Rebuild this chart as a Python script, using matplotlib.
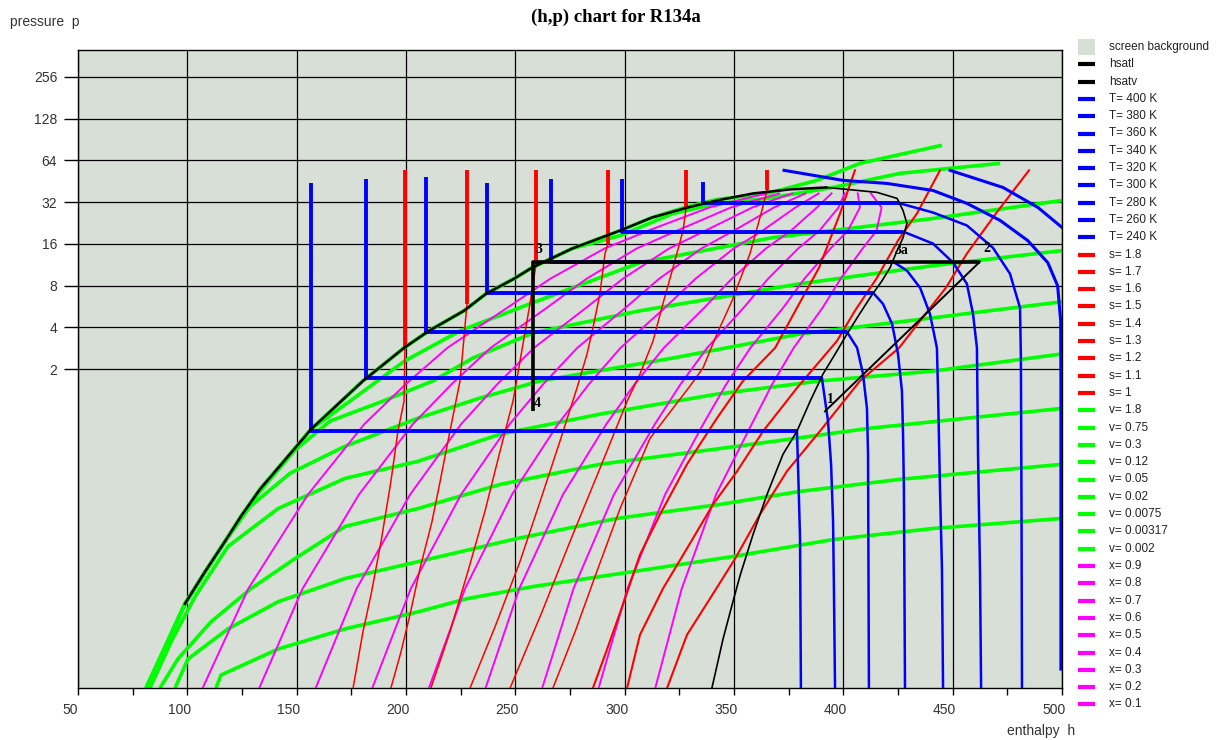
import matplotlib
matplotlib.use("Agg")
import matplotlib.pyplot as plt
import matplotlib.transforms as mtransforms
from matplotlib.lines import Line2D
from matplotlib.patches import Rectangle
from matplotlib.ticker import NullLocator

plt.rcParams['font.family'] = ['Liberation Sans', 'DejaVu Sans']

# ---- data: enthalpy h, pressure p ----
p_ticks = [2, 4, 8, 16, 32, 64, 128, 256]

# saturation curves
hsatl_h = [98.9, 108.1, 117.2, 124.5, 133.2, 149.2, 156.6, 180.3, 199.1, 210.5, 226.5,
           236.6, 249.4, 257.6, 275.9, 297.9, 312.5, 328.9, 342.2, 358.7, 375.6, 392.1]
hsatl_p = [0.0405, 0.0691, 0.114, 0.173, 0.271, 0.536, 0.736, 1.64, 2.84, 3.77, 5.26,
           6.98, 8.96, 10.76, 14.77, 19.93, 24.76, 29.25, 32.86, 36.93, 39.48, 40.81]
hsatv_h = [392.1, 401.7, 415.4, 424.6, 427.3, 429.1, 427.3, 424.6, 421.4, 417.7, 412.2, 406.3,
           401.7, 397.1, 390.7, 384.8, 378.8, 372.4, 365.1, 358.7, 352.9, 349.5, 345.0, 339.9]
hsatv_p = [40.81, 39.5, 37.6, 34.0, 27.8, 22.4, 17.7, 14.3, 10.8, 8.66, 6.53, 4.68,
           3.58, 2.70, 1.84, 1.17, 0.712, 0.485, 0.249, 0.128, 0.0657, 0.0419, 0.0226, 0.0100]

# isotherms (first three points: compressed liquid + two-phase, thick)
T_levels = [400, 380, 360, 340, 320, 300, 280, 260, 240]
t400_h = [448.8, 473.0, 489.0, 500.0]
t400_p = [54.2, 40.8, 29.25, 21.0]
t380_h = [372.9, 399.8, 420.0, 441.0, 456.5, 471.7, 484.3, 493.5, 498.0, 499.4, 499.5, 499.5]
t380_p = [54.2, 45.9, 43.6, 38.8, 31.3, 23.6, 16.9, 11.7, 7.97, 4.45, 1.64, 0.0137]
t360_h = [335.8, 335.8, 425.9, 441.0, 456.5, 468.4, 476.2, 480.8, 481.2, 481.5, 481.7]
t360_p = [44.35, 31.3, 31.3, 26.9, 21.7, 15.0, 9.74, 5.53, 2.40, 0.159, 0.01]
t340_h = [298.8, 298.8, 427.3, 441.0, 450.2, 456.5, 459.3, 461.1, 461.6, 462.5, 463.0]
t340_p = [46.6, 19.6, 19.6, 16.06, 11.7, 8.24, 5.00, 2.84, 0.485, 0.069, 0.01]
t320_h = [266.3, 266.3, 422.7, 429.1, 435.1, 439.6, 442.8, 443.3, 444.2, 445.1, 445.6]
t320_p = [46.6, 11.9, 11.9, 10.24, 7.71, 5.00, 2.84, 1.39, 0.275, 0.0727, 0.01]
t300_h = [237.0, 237.0, 413.6, 418.1, 422.3, 425.0, 426.8, 427.3, 427.7, 428.2]
t300_p = [43.6, 7.10, 7.10, 5.91, 4.23, 2.57, 1.39, 0.677, 0.275, 0.01]
t280_h = [209.1, 209.1, 401.7, 406.3, 409.0, 410.8, 411.3, 411.7]
t280_p = [48.2, 3.70, 3.70, 2.84, 1.84, 1.04, 0.485, 0.01]
t260_h = [181.7, 181.7, 390.2, 393.0, 394.4, 395.3, 395.7, 396.2]
t260_p = [46.6, 1.72, 1.72, 0.84, 0.41, 0.16, 0.052, 0.01]
t240_h = [156.6, 156.6, 378.8, 379.5, 380.2, 380.6]
t240_p = [43.9, 0.712, 0.712, 0.30, 0.12, 0.01]

# isentropes: liquid part (thick) then two-phase / vapour part
s_levels = [1.8, 1.7, 1.6, 1.5, 1.4, 1.3, 1.2, 1.1, 1.0]
s_liq_h = [365.1, 328.1, 292.4, 259.5, 227.9, 199.5]     # s = 1.5 ... 1.0
s_liq_top = [54.2, 54.2, 54.2, 54.2, 54.2, 54.2]
s_liq_bot = [38.8, 29.25, 16.06, 11.5, 5.91, 2.84]
s18_h = [484.9, 469.8, 456.5, 446.9, 435.1, 425.5, 407.6, 389.3, 374.2, 361.9, 350.5, 339.0, 328.5, 319.4]
s18_p = [54.2, 26.5, 13.6, 7.71, 4.45, 2.84, 1.64, 0.712, 0.366, 0.179, 0.0857, 0.0441, 0.0242, 0.01]
s17_h = [444.2, 433.7, 425.0, 415.4, 405.3, 397.1, 378.8, 363.3, 351.4, 340.4, 328.5, 317.5, 307.0, 301.1]
s17_p = [54.2, 26.5, 16.9, 9.11, 5.26, 3.19, 1.46, 0.712, 0.366, 0.211, 0.1015, 0.0521, 0.0242, 0.01]
s16_h = [405.3, 398.5, 388.9, 378.8, 368.8, 354.1, 342.2, 328.5, 316.2, 307.0, 299.2, 291.5, 285.5]
s16_p = [54.2, 26.5, 10.76, 5.53, 2.84, 1.64, 0.884, 0.411, 0.179, 0.0916, 0.0399, 0.0182, 0.01]
s15_h = [365.1, 362.4, 357.3, 349.1, 342.2, 335.8, 329.9, 311.6, 297.9, 286.4, 277.3, 267.2]
s15_p = [38.8, 26.5, 13.6, 6.21, 3.58, 2.03, 1.51, 0.633, 0.197, 0.0635, 0.0254, 0.01]
s14_h = [328.1, 326.7, 322.1, 317.5, 313.0, 307.0, 301.1, 288.7, 275.9, 262.2, 247.6]
s14_p = [29.25, 19.9, 10.76, 5.91, 3.19, 1.84, 1.17, 0.384, 0.1236, 0.0354, 0.01]
s13_h = [292.4, 291.0, 288.7, 285.5, 282.8, 278.2, 270.4, 261.3, 252.1, 240.7, 229.3]
s13_p = [16.06, 13.6, 6.98, 3.96, 2.57, 1.46, 0.603, 0.221, 0.0815, 0.0276, 0.01]
s12_h = [259.5, 256.7, 253.5, 250.8, 248.9, 243.0, 236.1, 228.3, 220.1, 211.4]
s12_p = [11.5, 5.91, 3.03, 1.72, 1.17, 0.510, 0.188, 0.0691, 0.0254, 0.01]
s11_h = [227.9, 226.1, 224.7, 220.1, 215.6, 211.9, 206.4, 201.8, 197.7, 193.1]
s11_p = [5.91, 2.84, 1.64, 0.712, 0.309, 0.159, 0.0727, 0.0337, 0.0182, 0.01]
s10_h = [199.5, 199.1, 196.3, 193.1, 188.6, 184.0, 180.3, 175.8]
s10_p = [2.84, 1.17, 0.712, 0.309, 0.114, 0.047, 0.0254, 0.01]

# isochores
v_labels = ['1.8', '0.75', '0.3', '0.12', '0.05', '0.02', '0.0075', '0.00317', '0.002']
v18_h = [113.1, 115.4, 141.5, 172.1, 205.5, 227.9, 258.1, 303.8, 349.5, 395.3, 441.0, 500.0]
v18_p = [0.01, 0.0124, 0.0191, 0.0267, 0.0354, 0.0441, 0.0539, 0.0691, 0.0888, 0.1177, 0.1415, 0.1672]
v075_h = [94.4, 100.3, 118.6, 141.5, 172.1, 205.5, 250.8, 296.5, 343.6, 380.2, 425.9, 500.0]
v075_p = [0.01, 0.0162, 0.0267, 0.0419, 0.0616, 0.0815, 0.1198, 0.1672, 0.211, 0.262, 0.320, 0.411]
v03_h = [87.5, 95.7, 110.8, 129.1, 149.2, 172.1, 205.5, 243.0, 288.7, 351.4, 412.2, 500.0]
v03_p = [0.01, 0.0162, 0.0300, 0.0521, 0.0857, 0.1463, 0.197, 0.294, 0.411, 0.554, 0.748, 1.04]
v012_h = [82.9, 93.0, 103.5, 118.6, 141.5, 172.1, 205.5, 243.0, 288.7, 342.2, 389.3, 441.0, 500.0]
v012_p = [0.01, 0.0222, 0.0455, 0.105, 0.197, 0.325, 0.432, 0.677, 0.945, 1.318, 1.64, 1.93, 2.57]
v005_h = [81.6, 98.9, 117.2, 128.7, 147.0, 172.1, 205.5, 233.8, 261.3, 322.1, 380.2, 441.0, 500.0]
v005_p = [0.01, 0.0405, 0.114, 0.204, 0.354, 0.554, 0.884, 1.234, 1.64, 2.40, 3.58, 4.68, 6.11]
v002_h = [81.6, 98.9, 117.2, 133.2, 149.2, 165.2, 189.5, 212.3, 230.6, 258.1, 307.0, 380.2, 441.0, 500.0]
v002_p = [0.01, 0.0405, 0.114, 0.262, 0.519, 0.841, 1.174, 1.64, 2.40, 3.64, 5.26, 8.24, 11.13, 14.29]
v00075_h = [81.6, 98.9, 117.2, 133.2, 149.2, 156.6, 174.4, 199.5, 224.7, 256.7, 307.0, 367.8, 441.0, 500.0]
v00075_p = [0.01, 0.0405, 0.114, 0.271, 0.536, 0.736, 1.174, 2.29, 3.77, 5.91, 11.7, 17.74, 24.35, 32.86]
v000317_h = [81.1, 98.9, 108.1, 117.2, 124.5, 133.2, 149.2, 156.6, 180.3, 199.1, 210.5, 226.5, 236.6,
             249.4, 257.6, 275.9, 297.9, 322.1, 342.2, 365.1, 395.3, 425.9, 471.7]
v000317_p = [0.01, 0.0405, 0.0691, 0.114, 0.173, 0.271, 0.536, 0.736, 1.64, 2.84, 3.77, 5.26, 6.98,
             8.96, 10.76, 14.77, 18.34, 26.46, 31.26, 33.98, 40.81, 51.54, 60.89]
v0002_h = [81.1, 98.9, 108.1, 117.2, 124.5, 133.2, 149.2, 156.6, 180.3, 199.1, 210.5, 226.5, 236.6,
           249.4, 257.6, 275.9, 297.9, 312.5, 328.9, 342.2, 365.1, 388.0, 407.6, 445.1]
v0002_p = [0.01, 0.0405, 0.0691, 0.114, 0.173, 0.271, 0.536, 0.736, 1.64, 2.84, 3.77, 5.26, 6.98,
           8.96, 10.76, 14.77, 19.93, 24.76, 29.7, 33.4, 36.9, 45.9, 60.9, 82.2]

# lines of constant quality, all sampled at the same pressures
x_labels = ['0.9', '0.8', '0.7', '0.6', '0.5', '0.4', '0.3', '0.2', '0.1']
x_p = [0.01, 0.0521, 0.249, 0.800, 1.557, 2.84, 5.53, 8.96, 14.77, 19.93, 29.25, 36.93]
x09_h = [314.0, 326.1, 341.8, 358.1, 367.5, 377.3, 390.5, 398.8, 408.8, 415.2, 417.5, 412.6]
x08_h = [288.1, 301.3, 318.5, 335.9, 346.5, 357.5, 372.5, 382.2, 394.1, 402.1, 407.6, 406.6]
x07_h = [262.3, 276.6, 295.1, 313.8, 325.6, 337.7, 354.4, 365.6, 379.3, 389.1, 397.8, 400.6]
x06_h = [236.4, 251.8, 271.8, 291.6, 304.6, 317.9, 336.4, 349.0, 364.5, 376.1, 387.9, 394.6]
x05_h = [210.5, 227.0, 248.5, 269.5, 283.7, 298.1, 318.4, 332.4, 349.8, 363.1, 378.1, 388.7]
x04_h = [184.6, 202.2, 225.2, 247.4, 262.8, 278.3, 300.4, 315.8, 335.0, 350.0, 368.3, 382.7]
x03_h = [158.7, 177.4, 201.9, 225.2, 241.8, 258.5, 282.4, 299.2, 320.2, 337.0, 358.4, 376.7]
x02_h = [132.9, 152.7, 178.5, 203.1, 220.9, 238.7, 264.4, 282.6, 305.4, 324.0, 348.6, 370.7]
x01_h = [107.0, 127.9, 155.2, 180.9, 199.9, 218.9, 246.3, 266.0, 290.7, 310.9, 338.7, 364.7]

# refrigeration cycle
cyc_h = [258.1, 258.1, 462.5, 391.6]   # 4, 3, 2, 1
cyc_p = [0.99, 11.9, 11.9, 0.99]
pt_names = ['3', '4', '1', '2', '3a']
pt_h = [259.2, 258.6, 392.4, 463.9, 423.6]
pt_p = [14.5, 1.13, 1.21, 14.8, 14.3]

BG = '#d7dfd6'
BLUE, RED, GREEN, MAG = '#0000ff', '#ff0000', '#00ff00', '#ff00ff'

W, H = 1223, 740
fig = plt.figure(figsize=(W / 100, H / 100), dpi=100)
ax = fig.add_axes([78 / W, 1 - 688 / H, (1062 - 78) / W, (688 - 50) / H])
ax.set_facecolor(BG)
ax.set_yscale('log', base=2)
ax.set_xlim(50, 500)
ax.set_ylim(0.01, 400)

# isochores
for hh, pp in [(v18_h, v18_p), (v075_h, v075_p), (v03_h, v03_p), (v012_h, v012_p),
               (v005_h, v005_p), (v002_h, v002_p), (v00075_h, v00075_p),
               (v000317_h, v000317_p), (v0002_h, v0002_p)]:
    ax.plot(hh, pp, color=GREEN, lw=2.6, zorder=2, solid_capstyle='butt')

# quality lines
for hh in [x09_h, x08_h, x07_h, x06_h, x05_h, x04_h, x03_h, x02_h, x01_h]:
    ax.plot(hh, x_p, color=MAG, lw=1.4, zorder=3)

# isentropes
for hh, pp in [(s18_h, s18_p), (s17_h, s17_p), (s16_h, s16_p)]:
    ax.plot(hh, pp, color=RED, lw=1.5, zorder=4)
for hh, pp in [(s15_h, s15_p), (s14_h, s14_p), (s13_h, s13_p),
               (s12_h, s12_p), (s11_h, s11_p), (s10_h, s10_p)]:
    ax.plot(hh, pp, color=RED, lw=1.1, zorder=4)
for h0, top, bot in zip(s_liq_h, s_liq_top, s_liq_bot):
    ax.plot([h0, h0], [top, bot], color=RED, lw=2.8, zorder=4, solid_capstyle='butt')

# isotherms
for hh, pp in [(t400_h, t400_p), (t380_h, t380_p)]:
    ax.plot(hh, pp, color=BLUE, lw=2.2, zorder=5)
for hh, pp in [(t360_h, t360_p), (t340_h, t340_p), (t320_h, t320_p), (t300_h, t300_p),
               (t280_h, t280_p), (t260_h, t260_p), (t240_h, t240_p)]:
    ax.plot(hh[:3], pp[:3], color=BLUE, lw=2.8, zorder=5, solid_capstyle='butt')
    ax.plot(hh[2:], pp[2:], color=BLUE, lw=1.8, zorder=5)

# saturation dome
ax.plot(hsatl_h, hsatl_p, color='black', lw=1.8, zorder=6)
ax.plot(hsatv_h, hsatv_p, color='black', lw=1.2, zorder=6)

# cycle
ax.plot(cyc_h[:3], cyc_p[:3], color='black', lw=2.6, zorder=7, solid_capstyle='butt')
ax.plot(cyc_h[2:], cyc_p[2:], color='black', lw=1.4, zorder=7)
for name, hh, pp in zip(pt_names, pt_h, pt_p):
    ax.text(hh, pp, name, ha='left', va='center', fontsize=10, fontweight='bold',
            family=['Liberation Serif', 'DejaVu Serif'], zorder=8)

# axes styling
ax.set_xticks(range(50, 501, 50))
ax.set_xticks(range(75, 500, 50), minor=True)
ax.set_yticks(p_ticks)
ax.set_yticklabels([str(t) for t in p_ticks])
ax.yaxis.set_minor_locator(NullLocator())
ax.grid(True, which='major', color='black', lw=0.9)
ax.tick_params(axis='x', which='both', direction='out', length=5, width=1,
               labelsize=10, labelcolor='#333333', pad=6)
ax.tick_params(axis='y', which='major', direction='out', length=10, width=1,
               labelsize=10, labelcolor='#333333', pad=5)
for sp in ax.spines.values():
    sp.set_color('black')
    sp.set_linewidth(1.0)
shift = mtransforms.ScaledTranslation(-8 / 100, 0, fig.dpi_scale_trans)
for lbl in ax.get_xticklabels():
    lbl.set_transform(lbl.get_transform() + shift)

fig.text(10 / W, 1 - 22 / H, 'pressure  p', ha='left', va='center', fontsize=10, color='#333333')
fig.text(1075 / W, 1 - 731 / H, 'enthalpy  h', ha='right', va='center', fontsize=10, color='#333333')
fig.text(616 / W, 1 - 17 / H, '(h,p) chart for R134a', ha='center', va='center', fontsize=13.5,
         fontweight='bold', family=['Liberation Serif', 'DejaVu Serif'])

# legend drawn on the figure
entries = [('screen background', None), ('hsatl', 'black'), ('hsatv', 'black')]
entries += [('T= %d K' % t, BLUE) for t in T_levels]
entries += [('s= %g' % s, RED) for s in s_levels]
entries += [('v= ' + v, GREEN) for v in v_labels]
entries += [('x= ' + x, MAG) for x in x_labels]
y0, dy = 47, 17.3
for i, (lab, col) in enumerate(entries):
    yy = y0 + i * dy
    if col is None:
        fig.patches.append(Rectangle((1078 / W, 1 - (yy + 8) / H), 17 / W, 16 / H,
                                     transform=fig.transFigure, facecolor=BG, edgecolor='none'))
    else:
        fig.lines.append(Line2D([1078 / W, 1095 / W], [1 - yy / H, 1 - yy / H],
                                transform=fig.transFigure, color=col, lw=3,
                                solid_capstyle='butt'))
    fig.text(1109 / W, 1 - yy / H, lab, ha='left', va='center', fontsize=8.5, color='#222222')

fig.savefig('out.png', dpi=100)
